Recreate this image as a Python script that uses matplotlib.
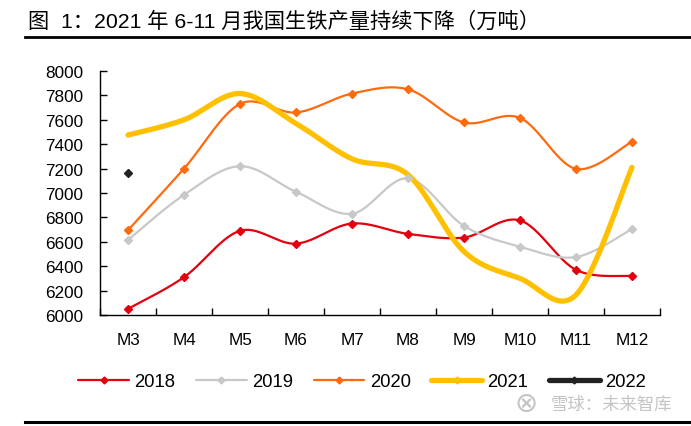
import matplotlib.pyplot as plt
import numpy as np
from matplotlib.lines import Line2D

plt.rcParams["font.family"] = ["Liberation Sans", "Noto Sans CJK SC", "DejaVu Sans"]

months = ["M3", "M4", "M5", "M6", "M7", "M8", "M9", "M10", "M11", "M12"]
y2018 = [6050, 6310, 6690, 6585, 6750, 6665, 6635, 6775, 6370, 6320]
y2019 = [6615, 6985, 7220, 7010, 6830, 7120, 6730, 6560, 6475, 6705]
y2020 = [6695, 7200, 7730, 7660, 7815, 7850, 7578, 7615, 7198, 7422]
y2021 = [7475, 7600, 7815, 7570, 7280, 7150, 6520, 6300, 6165, 7210]
y2022 = [7160]

RED = "#E3000F"
GREY = "#C8C8C8"
ORANGE = "#FF6A0F"
YELLOW = "#FFC000"
BLACK = "#222222"


def smooth(x, y, n=30):
    # Excel-like smoothed line (Catmull-Rom through the points)
    x = np.asarray(x, float)
    y = np.asarray(y, float)
    if len(x) < 2:
        return x, y
    px = np.concatenate([[x[0]], x, [x[-1]]])
    py = np.concatenate([[y[0]], y, [y[-1]]])
    xs, ys = [], []
    t = np.linspace(0, 1, n)
    for i in range(1, len(px) - 2):
        b0x, b0y = px[i], py[i]
        b3x, b3y = px[i + 1], py[i + 1]
        b1x = b0x + (px[i + 1] - px[i - 1]) / 6
        b1y = b0y + (py[i + 1] - py[i - 1]) / 6
        b2x = b3x - (px[i + 2] - px[i]) / 6
        b2y = b3y - (py[i + 2] - py[i]) / 6
        c = [(1 - t) ** 3, 3 * (1 - t) ** 2 * t, 3 * (1 - t) * t ** 2, t ** 3]
        xs.append(c[0] * b0x + c[1] * b1x + c[2] * b2x + c[3] * b3x)
        ys.append(c[0] * b0y + c[1] * b1y + c[2] * b2y + c[3] * b3y)
    return np.concatenate(xs), np.concatenate(ys)


fig = plt.figure(figsize=(6.91, 4.27), dpi=100)
ax = fig.add_axes([100 / 691, 1 - 316 / 427, 560 / 691, 244 / 427])

xpos = np.arange(len(months)) + 0.5
series = [
    ("2018", y2018, RED, 1.6, 4.5),
    ("2019", y2019, GREY, 1.6, 4.5),
    ("2020", y2020, ORANGE, 1.6, 4.5),
    ("2021", y2021, YELLOW, 3.8, 0),
    ("2022", y2022, BLACK, 3.8, 4.5),
]
handles = []
for name, vals, col, lw, ms in series:
    xv = xpos[:len(vals)]
    sx, sy = smooth(xv, vals)
    ax.plot(sx, sy, color=col, lw=lw, solid_capstyle="round", zorder=3)
    ax.plot(xv, vals, ls="none", marker="D", ms=ms, color=col, zorder=4)
    handles.append(Line2D([], [], color=col, lw=lw, marker="D",
                          ms=3.5, solid_capstyle="round"))

ax.set_xlim(0, len(months))
ax.set_ylim(6000, 8000)
ax.set_yticks(np.arange(6000, 8001, 200))
ax.set_xticks(np.arange(0, len(months) + 1))
ax.set_xticklabels([])
ax.set_xticks(xpos, minor=True)
ax.set_xticklabels(months, minor=True)
ax.tick_params(axis="x", which="major", direction="in", length=5, width=1)
ax.tick_params(axis="x", which="minor", length=0, pad=12, labelsize=12.3)
ax.tick_params(axis="y", direction="in", length=5, width=1, labelsize=12.3, pad=12)
for s in ["top", "right"]:
    ax.spines[s].set_visible(False)
for s in ["left", "bottom"]:
    ax.spines[s].set_linewidth(1)

fig.legend(handles, ["2018", "2019", "2020", "2021", "2022"], ncol=5,
           loc="center", bbox_to_anchor=(362 / 691, 1 - 383 / 427), frameon=False,
           fontsize=13.3, handlelength=2.75, handletextpad=0.3, columnspacing=1.1)

fig.text(28 / 691, 1 - 22 / 427, "图  1：2021 年 6-11 月我国生铁产量持续下降（万吨）",
         fontsize=15.3, va="center", ha="left")
fig.add_artist(Line2D([25 / 691, 1], [1 - 38 / 427] * 2, color="black", lw=2.0))
fig.add_artist(Line2D([25 / 691, 1], [1 - 423 / 427] * 2, color="black", lw=2.2))
fig.text(538 / 691, 1 - 404 / 427, "\u2297", fontsize=20, color="#C4C4C4",
         ha="right", va="center", family="DejaVu Sans")
fig.text(672 / 691, 1 - 405 / 427, "雪球：未来智库", fontsize=12.5,
         color="#C4C4C4", ha="right", va="center")

fig.savefig("out.png", dpi=100)
